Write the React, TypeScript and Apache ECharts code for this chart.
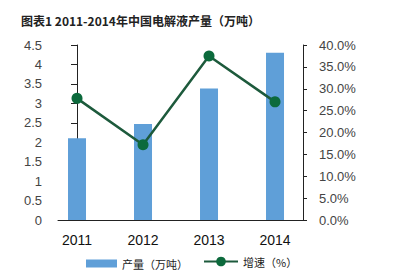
import React, { useEffect, useRef } from "react";
import * as echarts from "echarts";

const years = ["2011", "2012", "2013", "2014"];
const production = [2.1, 2.47, 3.38, 4.3];
const growth = [27.8, 17.2, 37.5, 27.0];
const seriesNames = ["产量（万吨）", "增速（%）"];
const titleText = "图表1 2011-2014年中国电解液产量（万吨）";

const FONT = "'Liberation Sans', Arial, 'Noto Sans CJK SC', sans-serif";
const CJK = "'Noto Sans CJK SC', sans-serif";

export default function App() {
  const ref = useRef<HTMLDivElement>(null);
  useEffect(() => {
    if (!ref.current) return;
    const chart = echarts.init(ref.current, null, { renderer: "svg" });
    chart.setOption({
      animation: false,
      backgroundColor: "#ffffff",
      textStyle: { fontFamily: FONT },
      title: {
        text: titleText,
        left: 16,
        top: 9,
        textStyle: { fontSize: 12, fontWeight: "bold", color: "#222", fontFamily: CJK },
      },
      legend: [
        {
          left: 81,
          top: 253,
          itemWidth: 31,
          itemHeight: 8,
          textStyle: { fontSize: 11, color: "#222", fontFamily: CJK },
          data: [{ name: seriesNames[0], icon: "rect" }],
        },
        {
          left: 198,
          top: 251,
          itemWidth: 34,
          itemHeight: 12,
          itemGap: 2,
          textStyle: { fontSize: 11, color: "#222", fontFamily: CJK },
          data: [{ name: seriesNames[1] }],
        },
      ],
      grid: { left: 58, right: 97, top: 45, bottom: 56 },
      xAxis: {
        type: "value",
        min: -0.288,
        max: 3.424,
        splitLine: { show: false },
        axisTick: { show: false },
        axisLine: { show: true, onZero: false, lineStyle: { color: "#222", width: 1 } },
        axisLabel: {
          customValues: [0, 1, 2, 3],
          formatter: (v: number) => years[Math.round(v)] ?? "",
          fontSize: 14,
          color: "#111",
          margin: 13,
          fontFamily: FONT,
        },
      },
      yAxis: [
        {
          type: "value",
          min: 0,
          max: 4.5,
          interval: 0.5,
          splitLine: { show: false },
          axisLine: { show: true, lineStyle: { color: "#222", width: 1 } },
          axisTick: { show: true, length: 6, lineStyle: { color: "#222" } },
          axisLabel: { fontSize: 13, color: "#444", margin: 16, formatter: (v: number) => String(v) },
        },
        {
          type: "value",
          min: 0,
          max: 40,
          interval: 5,
          splitLine: { show: false },
          axisLine: { show: true, lineStyle: { color: "#222", width: 1 } },
          axisTick: { show: true, length: 4, lineStyle: { color: "#222" } },
          axisLabel: { fontSize: 13, color: "#444", margin: 16, formatter: (v: number) => v.toFixed(1) + "%" },
        },
      ],
      series: [
        {
          name: seriesNames[0],
          type: "bar",
          barWidth: 18,
          itemStyle: { color: "#5f9fd8" },
          data: years.map((_, i) => [i, production[i]]),
        },
        {
          name: seriesNames[1],
          type: "line",
          yAxisIndex: 1,
          symbol: "circle",
          symbolSize: 11,
          lineStyle: { color: "#1d5a3c", width: 2.5 },
          itemStyle: { color: "#0c6a3c" },
          data: years.map((_, i) => [i, growth[i]]),
        },
      ],
    });
    return () => chart.dispose();
  }, []);
  return <div ref={ref} style={{ width: 400, height: 276, position: "absolute", left: 0, top: 0 }} />;
}
